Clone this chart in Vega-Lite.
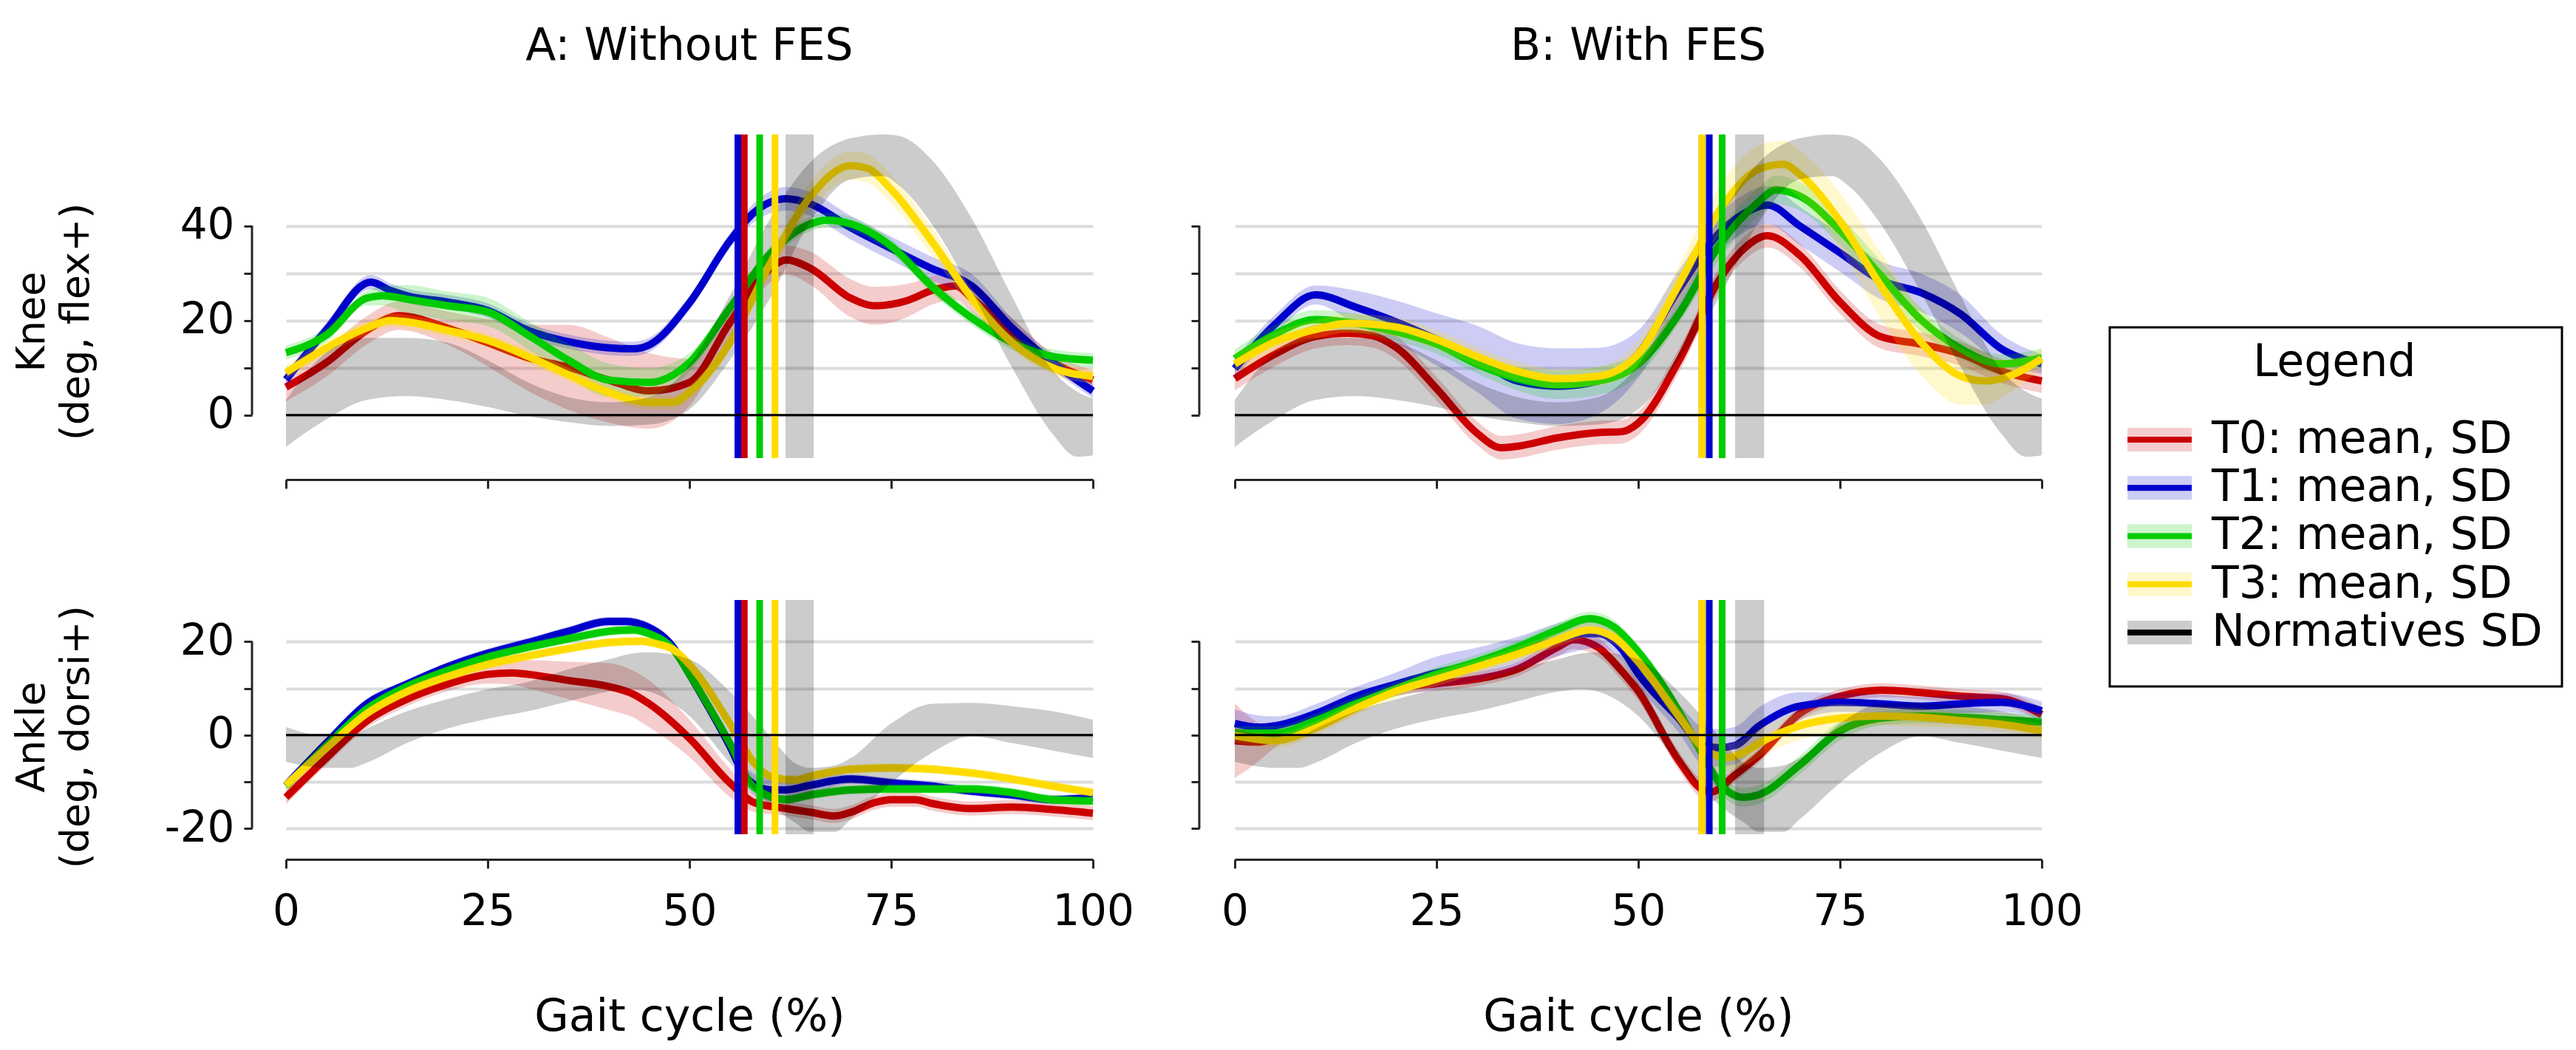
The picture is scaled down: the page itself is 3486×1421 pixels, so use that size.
{
"$schema":"https://vega.github.io/schema/vega-lite/v6.json",
"background":"white",
"padding":{"left":16,"top":32,"right":10,"bottom":10},
"config":{"font":"DejaVu Sans","view":{"stroke":null},"axis":{"labelFontWeight":"normal","titleFontWeight":"normal","labelColor":"#000","titleColor":"#000","labelFont":"DejaVu Sans","titleFont":"DejaVu Sans"},"title":{"fontWeight":"normal","fontSize":60,"color":"#000","font":"DejaVu Sans"}},
"datasets":{
"c":[
{"p":"A","j":"k","s":"T0","x":0,"m":5.9,"e":3},{"p":"A","j":"k","s":"T0","x":5,"m":11.1,"e":3},{"p":"A","j":"k","s":"T0","x":10,"m":17.9,"e":3},{"p":"A","j":"k","s":"T0","x":14,"m":21,"e":3},{"p":"A","j":"k","s":"T0","x":20,"m":18.4,"e":3.5},{"p":"A","j":"k","s":"T0","x":25,"m":15.3,"e":5},{"p":"A","j":"k","s":"T0","x":30,"m":12.1,"e":7},{"p":"A","j":"k","s":"T0","x":35,"m":10.1,"e":9},{"p":"A","j":"k","s":"T0","x":40,"m":7.4,"e":9},{"p":"A","j":"k","s":"T0","x":45,"m":5.1,"e":8},{"p":"A","j":"k","s":"T0","x":50,"m":6.9,"e":5},{"p":"A","j":"k","s":"T0","x":55,"m":19.5,"e":3},{"p":"A","j":"k","s":"T0","x":60,"m":31,"e":3},{"p":"A","j":"k","s":"T0","x":62,"m":32.8,"e":3},{"p":"A","j":"k","s":"T0","x":65,"m":31,"e":3.5},{"p":"A","j":"k","s":"T0","x":70,"m":24.7,"e":4},{"p":"A","j":"k","s":"T0","x":73,"m":23.1,"e":4},{"p":"A","j":"k","s":"T0","x":77,"m":24.2,"e":3.5},{"p":"A","j":"k","s":"T0","x":80,"m":26.3,"e":3},{"p":"A","j":"k","s":"T0","x":83,"m":27.3,"e":3},{"p":"A","j":"k","s":"T0","x":85,"m":24.7,"e":3},{"p":"A","j":"k","s":"T0","x":90,"m":17.4,"e":3},{"p":"A","j":"k","s":"T0","x":95,"m":11.1,"e":2},{"p":"A","j":"k","s":"T0","x":100,"m":7.4,"e":2},
{"p":"A","j":"k","s":"T1","x":0,"m":7.5,"e":1.5},{"p":"A","j":"k","s":"T1","x":5,"m":18,"e":1.5},{"p":"A","j":"k","s":"T1","x":10.5,"m":28.1,"e":1.5},{"p":"A","j":"k","s":"T1","x":13,"m":26.3,"e":1.5},{"p":"A","j":"k","s":"T1","x":15,"m":25.2,"e":1.5},{"p":"A","j":"k","s":"T1","x":20,"m":23.9,"e":1.5},{"p":"A","j":"k","s":"T1","x":25,"m":22.1,"e":1.5},{"p":"A","j":"k","s":"T1","x":30,"m":17.9,"e":1.5},{"p":"A","j":"k","s":"T1","x":35,"m":15.5,"e":1.5},{"p":"A","j":"k","s":"T1","x":40,"m":14.2,"e":1.5},{"p":"A","j":"k","s":"T1","x":43,"m":14,"e":1.5},{"p":"A","j":"k","s":"T1","x":45,"m":14.8,"e":1.5},{"p":"A","j":"k","s":"T1","x":50,"m":23.7,"e":1.5},{"p":"A","j":"k","s":"T1","x":55,"m":36.8,"e":1.5},{"p":"A","j":"k","s":"T1","x":58,"m":42.8,"e":2},{"p":"A","j":"k","s":"T1","x":62,"m":45.7,"e":2.5},{"p":"A","j":"k","s":"T1","x":65,"m":44.6,"e":2.5},{"p":"A","j":"k","s":"T1","x":70,"m":39.6,"e":2.5},{"p":"A","j":"k","s":"T1","x":75,"m":35.2,"e":2.5},{"p":"A","j":"k","s":"T1","x":80,"m":31,"e":2.5},{"p":"A","j":"k","s":"T1","x":85,"m":27.3,"e":2.5},{"p":"A","j":"k","s":"T1","x":90,"m":18.4,"e":2},{"p":"A","j":"k","s":"T1","x":95,"m":11.1,"e":1.5},{"p":"A","j":"k","s":"T1","x":100,"m":5.1,"e":1.5},
{"p":"A","j":"k","s":"T2","x":0,"m":13.2,"e":1.5},{"p":"A","j":"k","s":"T2","x":5,"m":16.9,"e":1.5},{"p":"A","j":"k","s":"T2","x":10,"m":24.7,"e":1.5},{"p":"A","j":"k","s":"T2","x":12,"m":25.2,"e":2},{"p":"A","j":"k","s":"T2","x":15,"m":24.5,"e":3},{"p":"A","j":"k","s":"T2","x":20,"m":23.1,"e":3},{"p":"A","j":"k","s":"T2","x":25,"m":21.8,"e":3},{"p":"A","j":"k","s":"T2","x":30,"m":16.9,"e":3},{"p":"A","j":"k","s":"T2","x":35,"m":11.6,"e":3.5},{"p":"A","j":"k","s":"T2","x":40,"m":7.4,"e":3.5},{"p":"A","j":"k","s":"T2","x":45,"m":6.9,"e":3},{"p":"A","j":"k","s":"T2","x":50,"m":11.1,"e":2},{"p":"A","j":"k","s":"T2","x":55,"m":22.6,"e":1.5},{"p":"A","j":"k","s":"T2","x":60,"m":34.1,"e":1.5},{"p":"A","j":"k","s":"T2","x":65,"m":40.4,"e":1.5},{"p":"A","j":"k","s":"T2","x":67,"m":41.2,"e":1.5},{"p":"A","j":"k","s":"T2","x":70,"m":40.4,"e":1.5},{"p":"A","j":"k","s":"T2","x":75,"m":35.7,"e":1.5},{"p":"A","j":"k","s":"T2","x":80,"m":27.3,"e":1.5},{"p":"A","j":"k","s":"T2","x":85,"m":20.5,"e":1.5},{"p":"A","j":"k","s":"T2","x":90,"m":15.3,"e":1.5},{"p":"A","j":"k","s":"T2","x":95,"m":12.4,"e":1.5},{"p":"A","j":"k","s":"T2","x":100,"m":11.6,"e":1.5},
{"p":"A","j":"k","s":"T3","x":0,"m":9,"e":1.5},{"p":"A","j":"k","s":"T3","x":5,"m":14.2,"e":1.5},{"p":"A","j":"k","s":"T3","x":10,"m":18.4,"e":1.5},{"p":"A","j":"k","s":"T3","x":13,"m":20,"e":1.5},{"p":"A","j":"k","s":"T3","x":15,"m":19.7,"e":1.5},{"p":"A","j":"k","s":"T3","x":20,"m":17.9,"e":1.5},{"p":"A","j":"k","s":"T3","x":25,"m":15.8,"e":1.5},{"p":"A","j":"k","s":"T3","x":30,"m":12.4,"e":1.5},{"p":"A","j":"k","s":"T3","x":35,"m":8.5,"e":1.5},{"p":"A","j":"k","s":"T3","x":40,"m":4.8,"e":1.5},{"p":"A","j":"k","s":"T3","x":45,"m":2.7,"e":1.5},{"p":"A","j":"k","s":"T3","x":48,"m":2.7,"e":1.5},{"p":"A","j":"k","s":"T3","x":50,"m":4.8,"e":1.5},{"p":"A","j":"k","s":"T3","x":55,"m":15.3,"e":1.5},{"p":"A","j":"k","s":"T3","x":60,"m":32,"e":2},{"p":"A","j":"k","s":"T3","x":65,"m":46.2,"e":3},{"p":"A","j":"k","s":"T3","x":70,"m":52.7,"e":3},{"p":"A","j":"k","s":"T3","x":72,"m":52.2,"e":3},{"p":"A","j":"k","s":"T3","x":75,"m":47.7,"e":3},{"p":"A","j":"k","s":"T3","x":80,"m":36.8,"e":3},{"p":"A","j":"k","s":"T3","x":85,"m":24.7,"e":2},{"p":"A","j":"k","s":"T3","x":90,"m":15.3,"e":1.5},{"p":"A","j":"k","s":"T3","x":95,"m":10,"e":1.5},{"p":"A","j":"k","s":"T3","x":100,"m":8.2,"e":1.5},
{"p":"B","j":"k","s":"T0","x":0,"m":7.7,"e":2.5},{"p":"B","j":"k","s":"T0","x":5,"m":12.9,"e":2.5},{"p":"B","j":"k","s":"T0","x":10,"m":16.6,"e":2.5},{"p":"B","j":"k","s":"T0","x":14,"m":17.3,"e":2.5},{"p":"B","j":"k","s":"T0","x":17,"m":16.8,"e":2.5},{"p":"B","j":"k","s":"T0","x":20,"m":14.3,"e":2.5},{"p":"B","j":"k","s":"T0","x":25,"m":5.6,"e":2.5},{"p":"B","j":"k","s":"T0","x":30,"m":-3.8,"e":2.5},{"p":"B","j":"k","s":"T0","x":33,"m":-6.9,"e":2.5},{"p":"B","j":"k","s":"T0","x":35,"m":-6.6,"e":2.5},{"p":"B","j":"k","s":"T0","x":40,"m":-4.8,"e":2.5},{"p":"B","j":"k","s":"T0","x":45,"m":-3.7,"e":2.5},{"p":"B","j":"k","s":"T0","x":48,"m":-3.5,"e":2.5},{"p":"B","j":"k","s":"T0","x":50,"m":-1.7,"e":2.5},{"p":"B","j":"k","s":"T0","x":55,"m":11.4,"e":2.5},{"p":"B","j":"k","s":"T0","x":60,"m":28.5,"e":2.5},{"p":"B","j":"k","s":"T0","x":63,"m":35,"e":2.5},{"p":"B","j":"k","s":"T0","x":66,"m":37.9,"e":2.5},{"p":"B","j":"k","s":"T0","x":70,"m":33.8,"e":2.5},{"p":"B","j":"k","s":"T0","x":75,"m":23.9,"e":2.5},{"p":"B","j":"k","s":"T0","x":80,"m":16.6,"e":2.5},{"p":"B","j":"k","s":"T0","x":85,"m":15,"e":2.5},{"p":"B","j":"k","s":"T0","x":90,"m":12.9,"e":2.5},{"p":"B","j":"k","s":"T0","x":95,"m":9.3,"e":2.5},{"p":"B","j":"k","s":"T0","x":100,"m":7.2,"e":2.5},
{"p":"B","j":"k","s":"T1","x":0,"m":9.8,"e":2},{"p":"B","j":"k","s":"T1","x":5,"m":19.2,"e":2},{"p":"B","j":"k","s":"T1","x":10,"m":25.4,"e":2},{"p":"B","j":"k","s":"T1","x":15,"m":22.8,"e":3.5},{"p":"B","j":"k","s":"T1","x":20,"m":19.7,"e":4.5},{"p":"B","j":"k","s":"T1","x":25,"m":16,"e":5.5},{"p":"B","j":"k","s":"T1","x":30,"m":11.9,"e":7},{"p":"B","j":"k","s":"T1","x":35,"m":7.2,"e":8},{"p":"B","j":"k","s":"T1","x":40,"m":6.1,"e":8},{"p":"B","j":"k","s":"T1","x":45,"m":7.2,"e":7},{"p":"B","j":"k","s":"T1","x":50,"m":12.9,"e":5},{"p":"B","j":"k","s":"T1","x":55,"m":26.5,"e":4},{"p":"B","j":"k","s":"T1","x":60,"m":38.4,"e":4},{"p":"B","j":"k","s":"T1","x":63,"m":42.5,"e":4},{"p":"B","j":"k","s":"T1","x":66,"m":44.4,"e":4},{"p":"B","j":"k","s":"T1","x":70,"m":40,"e":4},{"p":"B","j":"k","s":"T1","x":75,"m":34.3,"e":4},{"p":"B","j":"k","s":"T1","x":80,"m":28.5,"e":4},{"p":"B","j":"k","s":"T1","x":85,"m":25.9,"e":4},{"p":"B","j":"k","s":"T1","x":90,"m":21.3,"e":4},{"p":"B","j":"k","s":"T1","x":95,"m":14,"e":3},{"p":"B","j":"k","s":"T1","x":100,"m":10.8,"e":2},
{"p":"B","j":"k","s":"T2","x":0,"m":11.9,"e":2},{"p":"B","j":"k","s":"T2","x":5,"m":17.1,"e":2},{"p":"B","j":"k","s":"T2","x":10,"m":20.2,"e":2},{"p":"B","j":"k","s":"T2","x":15,"m":19.4,"e":2},{"p":"B","j":"k","s":"T2","x":20,"m":17.6,"e":2},{"p":"B","j":"k","s":"T2","x":25,"m":15,"e":2},{"p":"B","j":"k","s":"T2","x":30,"m":10.8,"e":2},{"p":"B","j":"k","s":"T2","x":35,"m":7.7,"e":2.5},{"p":"B","j":"k","s":"T2","x":40,"m":6.4,"e":3},{"p":"B","j":"k","s":"T2","x":45,"m":7.2,"e":3},{"p":"B","j":"k","s":"T2","x":50,"m":10.8,"e":2.5},{"p":"B","j":"k","s":"T2","x":55,"m":21.3,"e":2},{"p":"B","j":"k","s":"T2","x":60,"m":35.8,"e":3},{"p":"B","j":"k","s":"T2","x":65,"m":45.2,"e":3},{"p":"B","j":"k","s":"T2","x":67,"m":47.6,"e":3},{"p":"B","j":"k","s":"T2","x":70,"m":46.3,"e":3},{"p":"B","j":"k","s":"T2","x":75,"m":39,"e":3},{"p":"B","j":"k","s":"T2","x":80,"m":29.6,"e":3},{"p":"B","j":"k","s":"T2","x":85,"m":20.2,"e":2.5},{"p":"B","j":"k","s":"T2","x":90,"m":14,"e":2},{"p":"B","j":"k","s":"T2","x":95,"m":10.8,"e":2},{"p":"B","j":"k","s":"T2","x":100,"m":12.1,"e":2},
{"p":"B","j":"k","s":"T3","x":0,"m":10.8,"e":2},{"p":"B","j":"k","s":"T3","x":5,"m":15.5,"e":2},{"p":"B","j":"k","s":"T3","x":10,"m":18.1,"e":2},{"p":"B","j":"k","s":"T3","x":14,"m":19.4,"e":2},{"p":"B","j":"k","s":"T3","x":20,"m":18.6,"e":2},{"p":"B","j":"k","s":"T3","x":25,"m":16,"e":2},{"p":"B","j":"k","s":"T3","x":30,"m":12.4,"e":2},{"p":"B","j":"k","s":"T3","x":35,"m":9.3,"e":2},{"p":"B","j":"k","s":"T3","x":40,"m":7.7,"e":2},{"p":"B","j":"k","s":"T3","x":45,"m":8.2,"e":2},{"p":"B","j":"k","s":"T3","x":50,"m":12.9,"e":3},{"p":"B","j":"k","s":"T3","x":55,"m":27.5,"e":4},{"p":"B","j":"k","s":"T3","x":60,"m":43.1,"e":5},{"p":"B","j":"k","s":"T3","x":65,"m":52,"e":5},{"p":"B","j":"k","s":"T3","x":68,"m":53,"e":5},{"p":"B","j":"k","s":"T3","x":70,"m":50.9,"e":5},{"p":"B","j":"k","s":"T3","x":75,"m":41,"e":6},{"p":"B","j":"k","s":"T3","x":80,"m":27.5,"e":7},{"p":"B","j":"k","s":"T3","x":85,"m":15.5,"e":7},{"p":"B","j":"k","s":"T3","x":90,"m":8.2,"e":6},{"p":"B","j":"k","s":"T3","x":93,"m":7.2,"e":5},{"p":"B","j":"k","s":"T3","x":95,"m":7.7,"e":4},{"p":"B","j":"k","s":"T3","x":100,"m":11.9,"e":2},
{"p":"A","j":"a","s":"T0","x":0,"m":-13.3,"e":1.5},{"p":"A","j":"a","s":"T0","x":5,"m":-4.9,"e":1.5},{"p":"A","j":"a","s":"T0","x":10,"m":3,"e":1.5},{"p":"A","j":"a","s":"T0","x":15,"m":7.7,"e":1.5},{"p":"A","j":"a","s":"T0","x":20,"m":10.9,"e":1.5},{"p":"A","j":"a","s":"T0","x":25,"m":13,"e":2},{"p":"A","j":"a","s":"T0","x":28,"m":13.3,"e":2.5},{"p":"A","j":"a","s":"T0","x":30,"m":13,"e":3},{"p":"A","j":"a","s":"T0","x":35,"m":11.7,"e":4},{"p":"A","j":"a","s":"T0","x":40,"m":10.4,"e":5},{"p":"A","j":"a","s":"T0","x":43,"m":8.8,"e":5},{"p":"A","j":"a","s":"T0","x":45,"m":6.7,"e":5},{"p":"A","j":"a","s":"T0","x":50,"m":-0.7,"e":4},{"p":"A","j":"a","s":"T0","x":55,"m":-10.2,"e":3},{"p":"A","j":"a","s":"T0","x":58,"m":-14.4,"e":2},{"p":"A","j":"a","s":"T0","x":62,"m":-15.7,"e":1.5},{"p":"A","j":"a","s":"T0","x":65,"m":-16.5,"e":1.5},{"p":"A","j":"a","s":"T0","x":68,"m":-17.3,"e":1.5},{"p":"A","j":"a","s":"T0","x":70,"m":-16.5,"e":1.5},{"p":"A","j":"a","s":"T0","x":73,"m":-14.4,"e":1.5},{"p":"A","j":"a","s":"T0","x":75,"m":-13.8,"e":1.5},{"p":"A","j":"a","s":"T0","x":78,"m":-13.8,"e":1.5},{"p":"A","j":"a","s":"T0","x":80,"m":-14.6,"e":1.5},{"p":"A","j":"a","s":"T0","x":85,"m":-15.7,"e":1.5},{"p":"A","j":"a","s":"T0","x":90,"m":-15.4,"e":1.5},{"p":"A","j":"a","s":"T0","x":95,"m":-15.9,"e":1.5},{"p":"A","j":"a","s":"T0","x":100,"m":-16.7,"e":1.5},
{"p":"A","j":"a","s":"T1","x":0,"m":-10.7,"e":1},{"p":"A","j":"a","s":"T1","x":5,"m":-1.7,"e":1},{"p":"A","j":"a","s":"T1","x":10,"m":6.7,"e":1},{"p":"A","j":"a","s":"T1","x":15,"m":10.9,"e":1},{"p":"A","j":"a","s":"T1","x":20,"m":14.6,"e":1},{"p":"A","j":"a","s":"T1","x":25,"m":17.5,"e":1},{"p":"A","j":"a","s":"T1","x":30,"m":19.8,"e":1},{"p":"A","j":"a","s":"T1","x":35,"m":22.2,"e":1},{"p":"A","j":"a","s":"T1","x":40,"m":24.3,"e":1},{"p":"A","j":"a","s":"T1","x":42,"m":24.3,"e":1},{"p":"A","j":"a","s":"T1","x":45,"m":23,"e":1},{"p":"A","j":"a","s":"T1","x":48,"m":18.8,"e":1},{"p":"A","j":"a","s":"T1","x":50,"m":13,"e":1},{"p":"A","j":"a","s":"T1","x":55,"m":-2.3,"e":2},{"p":"A","j":"a","s":"T1","x":57,"m":-9.1,"e":2},{"p":"A","j":"a","s":"T1","x":60,"m":-11.7,"e":2.5},{"p":"A","j":"a","s":"T1","x":62,"m":-11.7,"e":2.5},{"p":"A","j":"a","s":"T1","x":65,"m":-10.7,"e":2},{"p":"A","j":"a","s":"T1","x":70,"m":-9.4,"e":1},{"p":"A","j":"a","s":"T1","x":75,"m":-10.2,"e":1},{"p":"A","j":"a","s":"T1","x":80,"m":-10.9,"e":1},{"p":"A","j":"a","s":"T1","x":85,"m":-12,"e":1},{"p":"A","j":"a","s":"T1","x":90,"m":-12.8,"e":1},{"p":"A","j":"a","s":"T1","x":95,"m":-13.8,"e":1},{"p":"A","j":"a","s":"T1","x":100,"m":-13.3,"e":1},
{"p":"A","j":"a","s":"T2","x":0,"m":-10.9,"e":1},{"p":"A","j":"a","s":"T2","x":5,"m":-2.3,"e":1},{"p":"A","j":"a","s":"T2","x":10,"m":5.6,"e":1},{"p":"A","j":"a","s":"T2","x":15,"m":10.4,"e":1},{"p":"A","j":"a","s":"T2","x":20,"m":13.8,"e":1},{"p":"A","j":"a","s":"T2","x":25,"m":16.7,"e":1},{"p":"A","j":"a","s":"T2","x":30,"m":18.8,"e":1},{"p":"A","j":"a","s":"T2","x":35,"m":20.6,"e":1},{"p":"A","j":"a","s":"T2","x":40,"m":22.2,"e":1},{"p":"A","j":"a","s":"T2","x":43,"m":22.5,"e":1},{"p":"A","j":"a","s":"T2","x":45,"m":21.7,"e":1},{"p":"A","j":"a","s":"T2","x":48,"m":18.3,"e":1},{"p":"A","j":"a","s":"T2","x":50,"m":13,"e":1},{"p":"A","j":"a","s":"T2","x":55,"m":-1.7,"e":1},{"p":"A","j":"a","s":"T2","x":58,"m":-11.2,"e":1},{"p":"A","j":"a","s":"T2","x":62,"m":-13.8,"e":1},{"p":"A","j":"a","s":"T2","x":65,"m":-12.8,"e":1},{"p":"A","j":"a","s":"T2","x":70,"m":-11.7,"e":1},{"p":"A","j":"a","s":"T2","x":75,"m":-11.5,"e":1},{"p":"A","j":"a","s":"T2","x":80,"m":-11.5,"e":1},{"p":"A","j":"a","s":"T2","x":85,"m":-11.5,"e":1},{"p":"A","j":"a","s":"T2","x":90,"m":-12.3,"e":1},{"p":"A","j":"a","s":"T2","x":95,"m":-13.8,"e":1},{"p":"A","j":"a","s":"T2","x":100,"m":-14.1,"e":1},
{"p":"A","j":"a","s":"T3","x":0,"m":-10.7,"e":1},{"p":"A","j":"a","s":"T3","x":5,"m":-2.8,"e":1},{"p":"A","j":"a","s":"T3","x":10,"m":4.6,"e":1},{"p":"A","j":"a","s":"T3","x":15,"m":9.3,"e":1},{"p":"A","j":"a","s":"T3","x":20,"m":12.5,"e":1},{"p":"A","j":"a","s":"T3","x":25,"m":15.1,"e":1},{"p":"A","j":"a","s":"T3","x":30,"m":16.9,"e":1},{"p":"A","j":"a","s":"T3","x":35,"m":18.5,"e":1},{"p":"A","j":"a","s":"T3","x":40,"m":19.8,"e":1},{"p":"A","j":"a","s":"T3","x":44,"m":20.1,"e":1},{"p":"A","j":"a","s":"T3","x":46,"m":19.5,"e":1},{"p":"A","j":"a","s":"T3","x":48,"m":18.3,"e":1},{"p":"A","j":"a","s":"T3","x":50,"m":15.1,"e":1},{"p":"A","j":"a","s":"T3","x":55,"m":2.5,"e":1},{"p":"A","j":"a","s":"T3","x":58,"m":-5.9,"e":1},{"p":"A","j":"a","s":"T3","x":60,"m":-8.8,"e":1},{"p":"A","j":"a","s":"T3","x":63,"m":-9.6,"e":1},{"p":"A","j":"a","s":"T3","x":65,"m":-8.8,"e":1},{"p":"A","j":"a","s":"T3","x":70,"m":-7.3,"e":1},{"p":"A","j":"a","s":"T3","x":75,"m":-7,"e":1},{"p":"A","j":"a","s":"T3","x":80,"m":-7.3,"e":1},{"p":"A","j":"a","s":"T3","x":85,"m":-8.1,"e":1},{"p":"A","j":"a","s":"T3","x":90,"m":-9.4,"e":1},{"p":"A","j":"a","s":"T3","x":95,"m":-10.9,"e":1},{"p":"A","j":"a","s":"T3","x":100,"m":-12.3,"e":1},
{"p":"B","j":"a","s":"T0","x":0,"m":-1.2,"e":8},{"p":"B","j":"a","s":"T0","x":3,"m":-1.5,"e":4},{"p":"B","j":"a","s":"T0","x":5,"m":-0.6,"e":2},{"p":"B","j":"a","s":"T0","x":10,"m":2.3,"e":1.5},{"p":"B","j":"a","s":"T0","x":15,"m":6.7,"e":1.5},{"p":"B","j":"a","s":"T0","x":20,"m":9.9,"e":1.5},{"p":"B","j":"a","s":"T0","x":25,"m":11,"e":1.5},{"p":"B","j":"a","s":"T0","x":30,"m":12,"e":1.5},{"p":"B","j":"a","s":"T0","x":35,"m":14.1,"e":1.5},{"p":"B","j":"a","s":"T0","x":40,"m":18.8,"e":2},{"p":"B","j":"a","s":"T0","x":42,"m":20.4,"e":2},{"p":"B","j":"a","s":"T0","x":45,"m":18.8,"e":2},{"p":"B","j":"a","s":"T0","x":48,"m":13.6,"e":2},{"p":"B","j":"a","s":"T0","x":50,"m":9.4,"e":2},{"p":"B","j":"a","s":"T0","x":55,"m":-5.4,"e":2},{"p":"B","j":"a","s":"T0","x":58,"m":-11.7,"e":2},{"p":"B","j":"a","s":"T0","x":59,"m":-12.2,"e":2},{"p":"B","j":"a","s":"T0","x":62,"m":-8.5,"e":1.5},{"p":"B","j":"a","s":"T0","x":65,"m":-4.3,"e":1.5},{"p":"B","j":"a","s":"T0","x":70,"m":4.6,"e":1.5},{"p":"B","j":"a","s":"T0","x":75,"m":8.3,"e":1.5},{"p":"B","j":"a","s":"T0","x":80,"m":9.6,"e":1.5},{"p":"B","j":"a","s":"T0","x":85,"m":9.1,"e":1.5},{"p":"B","j":"a","s":"T0","x":90,"m":8.3,"e":1.5},{"p":"B","j":"a","s":"T0","x":95,"m":7.8,"e":1.5},{"p":"B","j":"a","s":"T0","x":100,"m":4.4,"e":1.5},
{"p":"B","j":"a","s":"T1","x":0,"m":2.5,"e":3},{"p":"B","j":"a","s":"T1","x":3,"m":1.7,"e":2.5},{"p":"B","j":"a","s":"T1","x":5,"m":2,"e":2},{"p":"B","j":"a","s":"T1","x":10,"m":4.6,"e":2},{"p":"B","j":"a","s":"T1","x":15,"m":8.3,"e":2},{"p":"B","j":"a","s":"T1","x":20,"m":10.9,"e":2.5},{"p":"B","j":"a","s":"T1","x":25,"m":13.3,"e":3.5},{"p":"B","j":"a","s":"T1","x":30,"m":15.2,"e":3.5},{"p":"B","j":"a","s":"T1","x":35,"m":17.5,"e":3.5},{"p":"B","j":"a","s":"T1","x":40,"m":20.4,"e":3.5},{"p":"B","j":"a","s":"T1","x":43,"m":21.7,"e":3.5},{"p":"B","j":"a","s":"T1","x":45,"m":21.7,"e":3},{"p":"B","j":"a","s":"T1","x":48,"m":18.3,"e":2.5},{"p":"B","j":"a","s":"T1","x":50,"m":13.1,"e":2.5},{"p":"B","j":"a","s":"T1","x":55,"m":3.6,"e":3},{"p":"B","j":"a","s":"T1","x":58,"m":-2.2,"e":4},{"p":"B","j":"a","s":"T1","x":60,"m":-2.7,"e":4},{"p":"B","j":"a","s":"T1","x":62,"m":-2.2,"e":4},{"p":"B","j":"a","s":"T1","x":65,"m":2,"e":4},{"p":"B","j":"a","s":"T1","x":70,"m":6.2,"e":3},{"p":"B","j":"a","s":"T1","x":75,"m":7,"e":2},{"p":"B","j":"a","s":"T1","x":80,"m":6.7,"e":2},{"p":"B","j":"a","s":"T1","x":85,"m":6.2,"e":2},{"p":"B","j":"a","s":"T1","x":90,"m":6.7,"e":2},{"p":"B","j":"a","s":"T1","x":95,"m":7,"e":2},{"p":"B","j":"a","s":"T1","x":100,"m":5.2,"e":2},
{"p":"B","j":"a","s":"T2","x":0,"m":0.4,"e":1.5},{"p":"B","j":"a","s":"T2","x":5,"m":0.4,"e":1.5},{"p":"B","j":"a","s":"T2","x":10,"m":3.1,"e":1.5},{"p":"B","j":"a","s":"T2","x":15,"m":6.7,"e":1.5},{"p":"B","j":"a","s":"T2","x":20,"m":9.9,"e":1.5},{"p":"B","j":"a","s":"T2","x":25,"m":13.1,"e":1.5},{"p":"B","j":"a","s":"T2","x":30,"m":15.7,"e":1.5},{"p":"B","j":"a","s":"T2","x":35,"m":18.8,"e":1.5},{"p":"B","j":"a","s":"T2","x":40,"m":22.5,"e":1.5},{"p":"B","j":"a","s":"T2","x":44,"m":24.9,"e":1.5},{"p":"B","j":"a","s":"T2","x":47,"m":23.1,"e":1.5},{"p":"B","j":"a","s":"T2","x":50,"m":17.8,"e":1.5},{"p":"B","j":"a","s":"T2","x":55,"m":5.2,"e":1.5},{"p":"B","j":"a","s":"T2","x":58,"m":-4.3,"e":1.5},{"p":"B","j":"a","s":"T2","x":60,"m":-10.1,"e":2},{"p":"B","j":"a","s":"T2","x":63,"m":-13.3,"e":2},{"p":"B","j":"a","s":"T2","x":65,"m":-12.7,"e":2},{"p":"B","j":"a","s":"T2","x":70,"m":-6.4,"e":2},{"p":"B","j":"a","s":"T2","x":75,"m":0.9,"e":2},{"p":"B","j":"a","s":"T2","x":80,"m":3.6,"e":1.5},{"p":"B","j":"a","s":"T2","x":85,"m":4.1,"e":1.5},{"p":"B","j":"a","s":"T2","x":90,"m":3.8,"e":1.5},{"p":"B","j":"a","s":"T2","x":95,"m":3.3,"e":1.5},{"p":"B","j":"a","s":"T2","x":100,"m":2.8,"e":1.5},
{"p":"B","j":"a","s":"T3","x":0,"m":-0.1,"e":1.5},{"p":"B","j":"a","s":"T3","x":5,"m":-1.2,"e":1.5},{"p":"B","j":"a","s":"T3","x":10,"m":1.5,"e":1.5},{"p":"B","j":"a","s":"T3","x":15,"m":5.7,"e":1.5},{"p":"B","j":"a","s":"T3","x":20,"m":9.4,"e":1.5},{"p":"B","j":"a","s":"T3","x":25,"m":12,"e":1.5},{"p":"B","j":"a","s":"T3","x":30,"m":14.6,"e":1.5},{"p":"B","j":"a","s":"T3","x":35,"m":17.3,"e":1.5},{"p":"B","j":"a","s":"T3","x":40,"m":20.4,"e":1.5},{"p":"B","j":"a","s":"T3","x":44,"m":22.5,"e":1.5},{"p":"B","j":"a","s":"T3","x":47,"m":20.9,"e":1.5},{"p":"B","j":"a","s":"T3","x":50,"m":15.7,"e":1.5},{"p":"B","j":"a","s":"T3","x":55,"m":4.1,"e":2},{"p":"B","j":"a","s":"T3","x":58,"m":-2.7,"e":2.5},{"p":"B","j":"a","s":"T3","x":61,"m":-4.8,"e":3},{"p":"B","j":"a","s":"T3","x":63,"m":-3.8,"e":3},{"p":"B","j":"a","s":"T3","x":65,"m":-1.7,"e":3},{"p":"B","j":"a","s":"T3","x":70,"m":2,"e":3},{"p":"B","j":"a","s":"T3","x":75,"m":3.6,"e":3},{"p":"B","j":"a","s":"T3","x":80,"m":4.1,"e":2},{"p":"B","j":"a","s":"T3","x":85,"m":3.8,"e":2},{"p":"B","j":"a","s":"T3","x":90,"m":3.1,"e":1.5},{"p":"B","j":"a","s":"T3","x":95,"m":2.3,"e":1.5},{"p":"B","j":"a","s":"T3","x":100,"m":0.9,"e":1.5}
],
"n":[
{"j":"k","x":0,"lo":-6.7,"hi":3.2},{"j":"k","x":5,"lo":-0.9,"hi":13.2},{"j":"k","x":10,"lo":3.2,"hi":16.3},{"j":"k","x":15,"lo":4,"hi":16.3},{"j":"k","x":20,"lo":3.2,"hi":15.3},{"j":"k","x":25,"lo":1.7,"hi":11.6},{"j":"k","x":30,"lo":-0.2,"hi":6.9},{"j":"k","x":35,"lo":-1.5,"hi":3.8},{"j":"k","x":40,"lo":-2.3,"hi":2.7},{"j":"k","x":45,"lo":-2,"hi":3.8},{"j":"k","x":50,"lo":1.2,"hi":10.6},{"j":"k","x":55,"lo":11.6,"hi":25.2},{"j":"k","x":60,"lo":24.7,"hi":41.5},{"j":"k","x":65,"lo":40.9,"hi":53.5},{"j":"k","x":70,"lo":49.8,"hi":58.5},{"j":"k","x":74,"lo":50.5,"hi":59.3},{"j":"k","x":76,"lo":48.5,"hi":59},{"j":"k","x":80,"lo":40.5,"hi":54},{"j":"k","x":85,"lo":26,"hi":41.5},{"j":"k","x":90,"lo":10,"hi":25},{"j":"k","x":95,"lo":-4,"hi":9.5},{"j":"k","x":98,"lo":-8.8,"hi":5},{"j":"k","x":100,"lo":-8.5,"hi":3.5},
{"j":"a","x":0,"lo":-5.7,"hi":1.7},{"j":"a","x":5,"lo":-7,"hi":-0.2},{"j":"a","x":8,"lo":-7,"hi":-0.2},{"j":"a","x":10,"lo":-5.9,"hi":1.4},{"j":"a","x":15,"lo":-1.7,"hi":5.1},{"j":"a","x":20,"lo":1.4,"hi":7.7},{"j":"a","x":25,"lo":3.5,"hi":9.8},{"j":"a","x":30,"lo":5.1,"hi":11.4},{"j":"a","x":35,"lo":7.2,"hi":14.1},{"j":"a","x":40,"lo":9.3,"hi":16.2},{"j":"a","x":43,"lo":9.8,"hi":17.5},{"j":"a","x":45,"lo":9.3,"hi":17.7},{"j":"a","x":50,"lo":4.1,"hi":16.2},{"j":"a","x":55,"lo":-5.9,"hi":9.3},{"j":"a","x":60,"lo":-14.9,"hi":-0.2},{"j":"a","x":63,"lo":-18.6,"hi":-5.9},{"j":"a","x":65,"lo":-20.7,"hi":-7},{"j":"a","x":68,"lo":-20.7,"hi":-6.5},{"j":"a","x":70,"lo":-18,"hi":-4.9},{"j":"a","x":75,"lo":-10.2,"hi":2.5},{"j":"a","x":80,"lo":-3.8,"hi":6.7},{"j":"a","x":85,"lo":-0.2,"hi":6.9},{"j":"a","x":90,"lo":-1.7,"hi":6.2},{"j":"a","x":95,"lo":-3.3,"hi":5.1},{"j":"a","x":100,"lo":-4.9,"hi":3.3}
],
"ev":[
{"p":"A","s":"T0","x":56.8},{"p":"A","s":"T1","x":56.0},{"p":"A","s":"T2","x":58.7},{"p":"A","s":"T3","x":60.6},
{"p":"B","s":"T0","x":57.9},{"p":"B","s":"T1","x":58.8},{"p":"B","s":"T2","x":60.4},{"p":"B","s":"T3","x":57.9}
],
"ne":[{"p":"A","x":61.9,"x2":65.4},{"p":"B","x":62.0,"x2":65.6}],
"lg":[
{"row":0,"s":"T0","label":"T0: mean, SD"},{"row":1,"s":"T1","label":"T1: mean, SD"},{"row":2,"s":"T2","label":"T2: mean, SD"},{"row":3,"s":"T3","label":"T3: mean, SD"},{"row":4,"s":"N","label":"Normatives SD"}
]
},
"hconcat":[
{"vconcat":[
{"hconcat":[
{"width":1092,"height":438,
"title":{"text":"A: Without FES","fontSize":60,"offset":37,"baseline":"alphabetic","anchor":"middle"},
"layer":[
{"data":{"name":"c"},"transform":[{"filter":"datum.p=='A'&&datum.j=='k'&&datum.s=='T0'"}],"mark":{"type":"line","strokeWidth":10,"interpolate":"monotone"},
"encoding":{"x":{"field":"x","type":"quantitative","scale":{"domain":[0,100],"nice":false,"zero":false},"axis":{"values":[0,25,50,75,100],"labels":false,"domainWidth":3,"domainColor":"#262626","tickSize":12,"tickWidth":3,"tickColor":"#262626","offset":29,"grid":false,"title":null}},
"y":{"field":"m","type":"quantitative","scale":{"domain":[-9.1,59.3],"nice":false,"zero":false},"axis":{"values":[0,10,20,30,40],"labelExpr":"datum.value % 20 === 0 ? '' + datum.value : ''","domain":false,"tickSize":11,"tickWidth":3,"tickColor":"#262626","offset":46,"grid":true,"gridColor":"#dcdcdc","gridWidth":4,"labelFontSize":58,"labelPadding":13,"title":["Knee","(deg, flex+)"],"titleFontSize":54,"titleLineHeight":60,"titleX":-298,"titleY":253,"titleBaseline":"middle","titleAlign":"center"}},
"color":{"field":"s","type":"nominal","scale":{"domain":["T0","T1","T2","T3","N"],"range":["#cc0000","#0000cc","#00cc00","#ffdc00","#000000"]},"legend":null}}},
{"data":{"name":"c"},"transform":[{"filter":"datum.p=='A'&&datum.j=='k'&&datum.s=='T0'"}],"mark":{"type":"errorband","interpolate":"monotone","opacity":0.2},"encoding":{"x":{"field":"x","type":"quantitative","title":null},"y":{"field":"m","type":"quantitative","title":["Knee","(deg, flex+)"]},"yError":{"field":"e"},"color":{"field":"s","type":"nominal","legend":null}}},
{"data":{"name":"c"},"transform":[{"filter":"datum.p=='A'&&datum.j=='k'&&datum.s=='T1'"}],"mark":{"type":"errorband","interpolate":"monotone","opacity":0.2},"encoding":{"x":{"field":"x","type":"quantitative","title":null},"y":{"field":"m","type":"quantitative","title":["Knee","(deg, flex+)"]},"yError":{"field":"e"},"color":{"field":"s","type":"nominal","legend":null}}},
{"data":{"name":"c"},"transform":[{"filter":"datum.p=='A'&&datum.j=='k'&&datum.s=='T1'"}],"mark":{"type":"line","strokeWidth":10,"interpolate":"monotone"},"encoding":{"x":{"field":"x","type":"quantitative"},"y":{"field":"m","type":"quantitative"},"color":{"field":"s","type":"nominal","legend":null}}},
{"data":{"name":"c"},"transform":[{"filter":"datum.p=='A'&&datum.j=='k'&&datum.s=='T2'"}],"mark":{"type":"errorband","interpolate":"monotone","opacity":0.2},"encoding":{"x":{"field":"x","type":"quantitative","title":null},"y":{"field":"m","type":"quantitative","title":["Knee","(deg, flex+)"]},"yError":{"field":"e"},"color":{"field":"s","type":"nominal","legend":null}}},
{"data":{"name":"c"},"transform":[{"filter":"datum.p=='A'&&datum.j=='k'&&datum.s=='T2'"}],"mark":{"type":"line","strokeWidth":10,"interpolate":"monotone"},"encoding":{"x":{"field":"x","type":"quantitative"},"y":{"field":"m","type":"quantitative"},"color":{"field":"s","type":"nominal","legend":null}}},
{"data":{"name":"c"},"transform":[{"filter":"datum.p=='A'&&datum.j=='k'&&datum.s=='T3'"}],"mark":{"type":"errorband","interpolate":"monotone","opacity":0.2},"encoding":{"x":{"field":"x","type":"quantitative","title":null},"y":{"field":"m","type":"quantitative","title":["Knee","(deg, flex+)"]},"yError":{"field":"e"},"color":{"field":"s","type":"nominal","legend":null}}},
{"data":{"name":"c"},"transform":[{"filter":"datum.p=='A'&&datum.j=='k'&&datum.s=='T3'"}],"mark":{"type":"line","strokeWidth":10,"interpolate":"monotone"},"encoding":{"x":{"field":"x","type":"quantitative"},"y":{"field":"m","type":"quantitative"},"color":{"field":"s","type":"nominal","legend":null}}},
{"data":{"name":"n"},"transform":[{"filter":"datum.j=='k'"}],"mark":{"type":"area","interpolate":"monotone","color":"black","opacity":0.2},"encoding":{"x":{"field":"x","type":"quantitative"},"y":{"field":"lo","type":"quantitative"},"y2":{"field":"hi"}}},
{"data":{"name":"ne"},"transform":[{"filter":"datum.p=='A'"}],"mark":{"type":"rect","color":"black","opacity":0.2},"encoding":{"x":{"field":"x","type":"quantitative"},"x2":{"field":"x2"}}},
{"data":{"name":"ev"},"transform":[{"filter":"datum.p=='A'"}],"mark":{"type":"rule","strokeWidth":9},"encoding":{"x":{"field":"x","type":"quantitative"},"color":{"field":"s","type":"nominal","legend":null}}},
{"data":{"values":[{}]},"mark":{"type":"rule","color":"black","strokeWidth":3},"encoding":{"y":{"datum":0}}},
{"data":{"values":[{}]},"mark":{"type":"rule","color":"#262626","strokeWidth":3},"encoding":{"x":{"datum":-4.21},"y":{"datum":0},"y2":{"datum":40}}}
]},
{"width":1092,"height":438,
"title":{"text":"B: With FES","fontSize":60,"offset":37,"baseline":"alphabetic","anchor":"middle"},
"layer":[
{"data":{"name":"c"},"transform":[{"filter":"datum.p=='B'&&datum.j=='k'&&datum.s=='T0'"}],"mark":{"type":"line","strokeWidth":10,"interpolate":"monotone"},
"encoding":{"x":{"field":"x","type":"quantitative","scale":{"domain":[0,100],"nice":false,"zero":false},"axis":{"values":[0,25,50,75,100],"labels":false,"domainWidth":3,"domainColor":"#262626","tickSize":12,"tickWidth":3,"tickColor":"#262626","offset":29,"grid":false,"title":null}},
"y":{"field":"m","type":"quantitative","scale":{"domain":[-9.1,59.3],"nice":false,"zero":false},"axis":{"values":[0,10,20,30,40],"labels":false,"domain":false,"tickSize":11,"tickWidth":3,"tickColor":"#262626","offset":48,"grid":true,"gridColor":"#dcdcdc","gridWidth":4,"title":null}},
"color":{"field":"s","type":"nominal","legend":null}}},
{"data":{"name":"c"},"transform":[{"filter":"datum.p=='B'&&datum.j=='k'&&datum.s=='T0'"}],"mark":{"type":"errorband","interpolate":"monotone","opacity":0.2},"encoding":{"x":{"field":"x","type":"quantitative","title":null},"y":{"field":"m","type":"quantitative","title":null},"yError":{"field":"e"},"color":{"field":"s","type":"nominal","legend":null}}},
{"data":{"name":"c"},"transform":[{"filter":"datum.p=='B'&&datum.j=='k'&&datum.s=='T1'"}],"mark":{"type":"errorband","interpolate":"monotone","opacity":0.2},"encoding":{"x":{"field":"x","type":"quantitative","title":null},"y":{"field":"m","type":"quantitative","title":null},"yError":{"field":"e"},"color":{"field":"s","type":"nominal","legend":null}}},
{"data":{"name":"c"},"transform":[{"filter":"datum.p=='B'&&datum.j=='k'&&datum.s=='T1'"}],"mark":{"type":"line","strokeWidth":10,"interpolate":"monotone"},"encoding":{"x":{"field":"x","type":"quantitative"},"y":{"field":"m","type":"quantitative"},"color":{"field":"s","type":"nominal","legend":null}}},
{"data":{"name":"c"},"transform":[{"filter":"datum.p=='B'&&datum.j=='k'&&datum.s=='T2'"}],"mark":{"type":"errorband","interpolate":"monotone","opacity":0.2},"encoding":{"x":{"field":"x","type":"quantitative","title":null},"y":{"field":"m","type":"quantitative","title":null},"yError":{"field":"e"},"color":{"field":"s","type":"nominal","legend":null}}},
{"data":{"name":"c"},"transform":[{"filter":"datum.p=='B'&&datum.j=='k'&&datum.s=='T2'"}],"mark":{"type":"line","strokeWidth":10,"interpolate":"monotone"},"encoding":{"x":{"field":"x","type":"quantitative"},"y":{"field":"m","type":"quantitative"},"color":{"field":"s","type":"nominal","legend":null}}},
{"data":{"name":"c"},"transform":[{"filter":"datum.p=='B'&&datum.j=='k'&&datum.s=='T3'"}],"mark":{"type":"errorband","interpolate":"monotone","opacity":0.2},"encoding":{"x":{"field":"x","type":"quantitative","title":null},"y":{"field":"m","type":"quantitative","title":null},"yError":{"field":"e"},"color":{"field":"s","type":"nominal","legend":null}}},
{"data":{"name":"c"},"transform":[{"filter":"datum.p=='B'&&datum.j=='k'&&datum.s=='T3'"}],"mark":{"type":"line","strokeWidth":10,"interpolate":"monotone"},"encoding":{"x":{"field":"x","type":"quantitative"},"y":{"field":"m","type":"quantitative"},"color":{"field":"s","type":"nominal","legend":null}}},
{"data":{"name":"n"},"transform":[{"filter":"datum.j=='k'"}],"mark":{"type":"area","interpolate":"monotone","color":"black","opacity":0.2},"encoding":{"x":{"field":"x","type":"quantitative"},"y":{"field":"lo","type":"quantitative"},"y2":{"field":"hi"}}},
{"data":{"name":"ne"},"transform":[{"filter":"datum.p=='B'"}],"mark":{"type":"rect","color":"black","opacity":0.2},"encoding":{"x":{"field":"x","type":"quantitative"},"x2":{"field":"x2"}}},
{"data":{"name":"ev"},"transform":[{"filter":"datum.p=='B'"}],"mark":{"type":"rule","strokeWidth":9},"encoding":{"x":{"field":"x","type":"quantitative"},"color":{"field":"s","type":"nominal","legend":null}}},
{"data":{"values":[{}]},"mark":{"type":"rule","color":"black","strokeWidth":3},"encoding":{"y":{"datum":0}}},
{"data":{"values":[{}]},"mark":{"type":"rule","color":"#262626","strokeWidth":3},"encoding":{"x":{"datum":-4.4},"y":{"datum":0},"y2":{"datum":40}}}
]}
],"spacing":192,"bounds":"flush"},
{"hconcat":[
{"width":1092,"height":317,
"layer":[
{"data":{"name":"c"},"transform":[{"filter":"datum.p=='A'&&datum.j=='a'&&datum.s=='T0'"}],"mark":{"type":"line","strokeWidth":10,"interpolate":"monotone"},
"encoding":{"x":{"field":"x","type":"quantitative","scale":{"domain":[0,100],"nice":false,"zero":false},"axis":{"values":[0,25,50,75,100],"domainWidth":3,"domainColor":"#262626","tickSize":12,"tickWidth":3,"tickColor":"#262626","offset":34,"grid":false,"labelFontSize":58,"labelPadding":30,"labelFlush":false,"title":"Gait cycle (%)","titleFontSize":60,"titlePadding":84}},
"y":{"field":"m","type":"quantitative","scale":{"domain":[-21.2,28.9],"nice":false,"zero":false},"axis":{"values":[-20,-10,0,10,20],"labelExpr":"datum.value % 20 === 0 ? '' + datum.value : ''","domain":false,"tickSize":11,"tickWidth":3,"tickColor":"#262626","offset":46,"grid":true,"gridColor":"#dcdcdc","gridWidth":4,"labelFontSize":58,"labelPadding":13,"title":["Ankle","(deg, dorsi+)"],"titleFontSize":54,"titleLineHeight":60,"titleX":-298,"titleY":185,"titleBaseline":"middle","titleAlign":"center"}},
"color":{"field":"s","type":"nominal","legend":null}}},
{"data":{"name":"c"},"transform":[{"filter":"datum.p=='A'&&datum.j=='a'&&datum.s=='T0'"}],"mark":{"type":"errorband","interpolate":"monotone","opacity":0.2},"encoding":{"x":{"field":"x","type":"quantitative","title":"Gait cycle (%)"},"y":{"field":"m","type":"quantitative","title":["Ankle","(deg, dorsi+)"]},"yError":{"field":"e"},"color":{"field":"s","type":"nominal","legend":null}}},
{"data":{"name":"c"},"transform":[{"filter":"datum.p=='A'&&datum.j=='a'&&datum.s=='T1'"}],"mark":{"type":"errorband","interpolate":"monotone","opacity":0.2},"encoding":{"x":{"field":"x","type":"quantitative","title":"Gait cycle (%)"},"y":{"field":"m","type":"quantitative","title":["Ankle","(deg, dorsi+)"]},"yError":{"field":"e"},"color":{"field":"s","type":"nominal","legend":null}}},
{"data":{"name":"c"},"transform":[{"filter":"datum.p=='A'&&datum.j=='a'&&datum.s=='T1'"}],"mark":{"type":"line","strokeWidth":10,"interpolate":"monotone"},"encoding":{"x":{"field":"x","type":"quantitative"},"y":{"field":"m","type":"quantitative"},"color":{"field":"s","type":"nominal","legend":null}}},
{"data":{"name":"c"},"transform":[{"filter":"datum.p=='A'&&datum.j=='a'&&datum.s=='T2'"}],"mark":{"type":"errorband","interpolate":"monotone","opacity":0.2},"encoding":{"x":{"field":"x","type":"quantitative","title":"Gait cycle (%)"},"y":{"field":"m","type":"quantitative","title":["Ankle","(deg, dorsi+)"]},"yError":{"field":"e"},"color":{"field":"s","type":"nominal","legend":null}}},
{"data":{"name":"c"},"transform":[{"filter":"datum.p=='A'&&datum.j=='a'&&datum.s=='T2'"}],"mark":{"type":"line","strokeWidth":10,"interpolate":"monotone"},"encoding":{"x":{"field":"x","type":"quantitative"},"y":{"field":"m","type":"quantitative"},"color":{"field":"s","type":"nominal","legend":null}}},
{"data":{"name":"c"},"transform":[{"filter":"datum.p=='A'&&datum.j=='a'&&datum.s=='T3'"}],"mark":{"type":"errorband","interpolate":"monotone","opacity":0.2},"encoding":{"x":{"field":"x","type":"quantitative","title":"Gait cycle (%)"},"y":{"field":"m","type":"quantitative","title":["Ankle","(deg, dorsi+)"]},"yError":{"field":"e"},"color":{"field":"s","type":"nominal","legend":null}}},
{"data":{"name":"c"},"transform":[{"filter":"datum.p=='A'&&datum.j=='a'&&datum.s=='T3'"}],"mark":{"type":"line","strokeWidth":10,"interpolate":"monotone"},"encoding":{"x":{"field":"x","type":"quantitative"},"y":{"field":"m","type":"quantitative"},"color":{"field":"s","type":"nominal","legend":null}}},
{"data":{"name":"n"},"transform":[{"filter":"datum.j=='a'"}],"mark":{"type":"area","interpolate":"monotone","color":"black","opacity":0.2},"encoding":{"x":{"field":"x","type":"quantitative"},"y":{"field":"lo","type":"quantitative"},"y2":{"field":"hi"}}},
{"data":{"name":"ne"},"transform":[{"filter":"datum.p=='A'"}],"mark":{"type":"rect","color":"black","opacity":0.2},"encoding":{"x":{"field":"x","type":"quantitative"},"x2":{"field":"x2"}}},
{"data":{"name":"ev"},"transform":[{"filter":"datum.p=='A'"}],"mark":{"type":"rule","strokeWidth":9},"encoding":{"x":{"field":"x","type":"quantitative"},"color":{"field":"s","type":"nominal","legend":null}}},
{"data":{"values":[{}]},"mark":{"type":"rule","color":"black","strokeWidth":3},"encoding":{"y":{"datum":0}}},
{"data":{"values":[{}]},"mark":{"type":"rule","color":"#262626","strokeWidth":3},"encoding":{"x":{"datum":-4.21},"y":{"datum":-20},"y2":{"datum":20}}}
]},
{"width":1092,"height":317,
"layer":[
{"data":{"name":"c"},"transform":[{"filter":"datum.p=='B'&&datum.j=='a'&&datum.s=='T0'"}],"mark":{"type":"line","strokeWidth":10,"interpolate":"monotone"},
"encoding":{"x":{"field":"x","type":"quantitative","scale":{"domain":[0,100],"nice":false,"zero":false},"axis":{"values":[0,25,50,75,100],"domainWidth":3,"domainColor":"#262626","tickSize":12,"tickWidth":3,"tickColor":"#262626","offset":34,"grid":false,"labelFontSize":58,"labelPadding":30,"labelFlush":false,"title":"Gait cycle (%)","titleFontSize":60,"titlePadding":84}},
"y":{"field":"m","type":"quantitative","scale":{"domain":[-21.2,28.9],"nice":false,"zero":false},"axis":{"values":[-20,-10,0,10,20],"labels":false,"domain":false,"tickSize":11,"tickWidth":3,"tickColor":"#262626","offset":48,"grid":true,"gridColor":"#dcdcdc","gridWidth":4,"title":null}},
"color":{"field":"s","type":"nominal","legend":null}}},
{"data":{"name":"c"},"transform":[{"filter":"datum.p=='B'&&datum.j=='a'&&datum.s=='T0'"}],"mark":{"type":"errorband","interpolate":"monotone","opacity":0.2},"encoding":{"x":{"field":"x","type":"quantitative","title":"Gait cycle (%)"},"y":{"field":"m","type":"quantitative","title":null},"yError":{"field":"e"},"color":{"field":"s","type":"nominal","legend":null}}},
{"data":{"name":"c"},"transform":[{"filter":"datum.p=='B'&&datum.j=='a'&&datum.s=='T1'"}],"mark":{"type":"errorband","interpolate":"monotone","opacity":0.2},"encoding":{"x":{"field":"x","type":"quantitative","title":"Gait cycle (%)"},"y":{"field":"m","type":"quantitative","title":null},"yError":{"field":"e"},"color":{"field":"s","type":"nominal","legend":null}}},
{"data":{"name":"c"},"transform":[{"filter":"datum.p=='B'&&datum.j=='a'&&datum.s=='T1'"}],"mark":{"type":"line","strokeWidth":10,"interpolate":"monotone"},"encoding":{"x":{"field":"x","type":"quantitative"},"y":{"field":"m","type":"quantitative"},"color":{"field":"s","type":"nominal","legend":null}}},
{"data":{"name":"c"},"transform":[{"filter":"datum.p=='B'&&datum.j=='a'&&datum.s=='T2'"}],"mark":{"type":"errorband","interpolate":"monotone","opacity":0.2},"encoding":{"x":{"field":"x","type":"quantitative","title":"Gait cycle (%)"},"y":{"field":"m","type":"quantitative","title":null},"yError":{"field":"e"},"color":{"field":"s","type":"nominal","legend":null}}},
{"data":{"name":"c"},"transform":[{"filter":"datum.p=='B'&&datum.j=='a'&&datum.s=='T2'"}],"mark":{"type":"line","strokeWidth":10,"interpolate":"monotone"},"encoding":{"x":{"field":"x","type":"quantitative"},"y":{"field":"m","type":"quantitative"},"color":{"field":"s","type":"nominal","legend":null}}},
{"data":{"name":"c"},"transform":[{"filter":"datum.p=='B'&&datum.j=='a'&&datum.s=='T3'"}],"mark":{"type":"errorband","interpolate":"monotone","opacity":0.2},"encoding":{"x":{"field":"x","type":"quantitative","title":"Gait cycle (%)"},"y":{"field":"m","type":"quantitative","title":null},"yError":{"field":"e"},"color":{"field":"s","type":"nominal","legend":null}}},
{"data":{"name":"c"},"transform":[{"filter":"datum.p=='B'&&datum.j=='a'&&datum.s=='T3'"}],"mark":{"type":"line","strokeWidth":10,"interpolate":"monotone"},"encoding":{"x":{"field":"x","type":"quantitative"},"y":{"field":"m","type":"quantitative"},"color":{"field":"s","type":"nominal","legend":null}}},
{"data":{"name":"n"},"transform":[{"filter":"datum.j=='a'"}],"mark":{"type":"area","interpolate":"monotone","color":"black","opacity":0.2},"encoding":{"x":{"field":"x","type":"quantitative"},"y":{"field":"lo","type":"quantitative"},"y2":{"field":"hi"}}},
{"data":{"name":"ne"},"transform":[{"filter":"datum.p=='B'"}],"mark":{"type":"rect","color":"black","opacity":0.2},"encoding":{"x":{"field":"x","type":"quantitative"},"x2":{"field":"x2"}}},
{"data":{"name":"ev"},"transform":[{"filter":"datum.p=='B'"}],"mark":{"type":"rule","strokeWidth":9},"encoding":{"x":{"field":"x","type":"quantitative"},"color":{"field":"s","type":"nominal","legend":null}}},
{"data":{"values":[{}]},"mark":{"type":"rule","color":"black","strokeWidth":3},"encoding":{"y":{"datum":0}}},
{"data":{"values":[{}]},"mark":{"type":"rule","color":"#262626","strokeWidth":3},"encoding":{"x":{"datum":-4.4},"y":{"datum":-20},"y2":{"datum":20}}}
]}
],"spacing":192,"bounds":"flush"}
],"spacing":144},
{"vconcat":[
{"width":612,"height":258.5,"view":{"fill":"white","stroke":null},"data":{"values":[]},"mark":"point"},
{"width":612,"height":486,
"view":{"stroke":"black","strokeWidth":3},
"data":{"name":"lg"},
"layer":[
{"mark":{"type":"rule","strokeWidth":32,"opacity":0.2},"encoding":{"x":{"datum":0.0392,"type":"quantitative","scale":{"domain":[0,1],"nice":false,"zero":false},"axis":null},"x2":{"datum":0.1814},"y":{"field":"row","type":"quantitative","scale":{"domain":[-2.33,5.12],"reverse":true,"nice":false,"zero":false},"axis":null},"color":{"field":"s","type":"nominal","legend":null}}},
{"mark":{"type":"rule","strokeWidth":8},"encoding":{"x":{"datum":0.0392,"type":"quantitative","axis":null},"x2":{"datum":0.1814},"y":{"field":"row","type":"quantitative","axis":null},"color":{"field":"s","type":"nominal","legend":null}}},
{"mark":{"type":"text","fontSize":60,"align":"left","baseline":"middle","color":"black"},"encoding":{"x":{"datum":0.2255,"type":"quantitative","axis":null},"y":{"field":"row","type":"quantitative","axis":null},"text":{"field":"label"}}},
{"data":{"values":[{"t":"Legend"}]},"mark":{"type":"text","fontSize":60,"align":"center","baseline":"middle","color":"black"},"encoding":{"x":{"datum":0.497,"type":"quantitative","axis":null},"y":{"datum":-1.594,"type":"quantitative","axis":null},"text":{"field":"t"}}}
]}
],"spacing":0}
],
"spacing":34
}
